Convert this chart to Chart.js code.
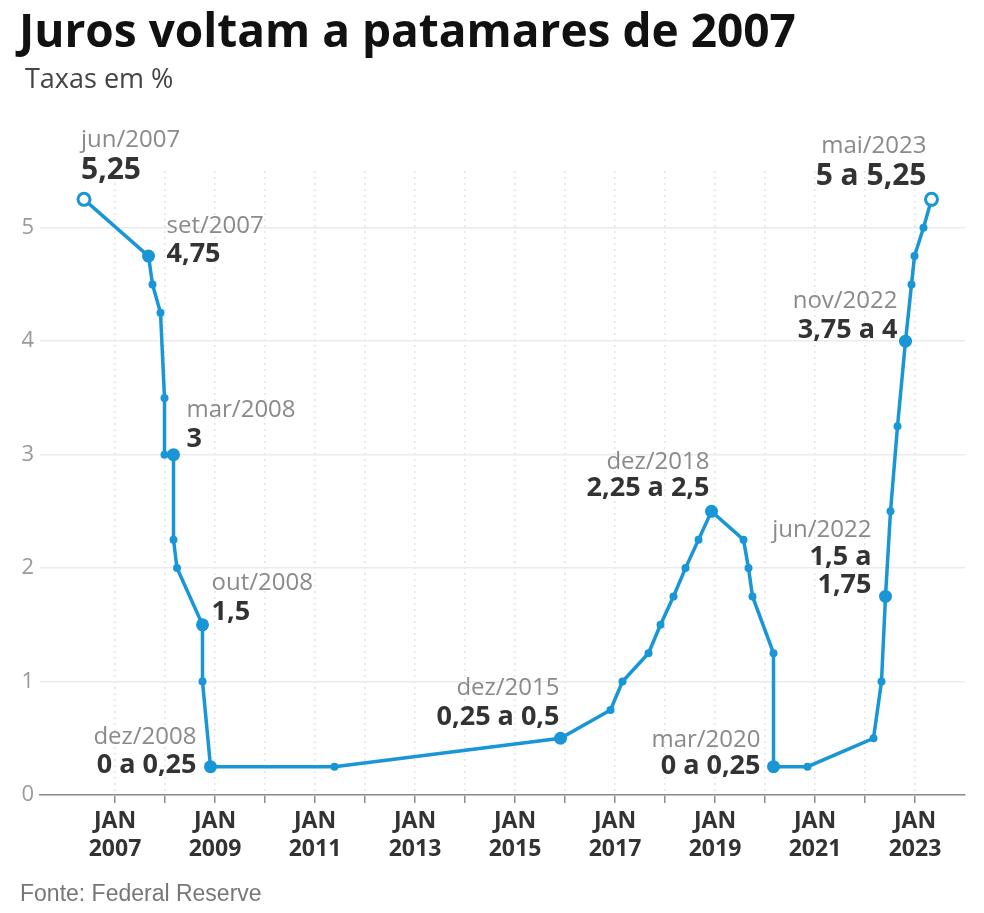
<!DOCTYPE html>
<html lang="pt-BR">
<head>
<meta charset="utf-8">
<script src="https://cdn.jsdelivr.net/npm/chart.js@4.4.0/dist/chart.umd.min.js"></script>
<style>
  html, body { margin: 0; padding: 0; background: #fff; }
  #wrap { position: relative; width: 984px; height: 913px; font-family: 'Open Sans', sans-serif; }
  #chartBox { position: absolute; left: 0; top: 0; }
  h1 { position: absolute; left: 19px; top: -1px; margin: 0; font-size: 46px; font-weight: 700; color: #111; line-height: 61px; white-space: nowrap; }
  .sub { position: absolute; left: 25px; top: 60px; font-size: 27px; color: #444; line-height: 35px; }
  .src { position: absolute; left: 20px; top: 880px; font-family: 'Liberation Sans', Arial, sans-serif; font-size: 23px; color: #777; line-height: 26px; }
</style>
</head>
<body>
<div id="wrap">
  <canvas id="chartBox" width="984" height="913"></canvas>
  <h1>Juros voltam a patamares de 2007</h1>
  <div class="sub">Taxas em %</div>
  <div class="src">Fonte: Federal Reserve</div>
</div>
<script>
// --- DATA ---
// fed funds target (upper bound), x = fractional year
const rateDates = [2006.38, 2007.67, 2007.75, 2007.91, 2007.99, 2007.99, 2008.17, 2008.17, 2008.24, 2008.75,
                   2008.75, 2008.91, 2011.39, 2015.91, 2016.91, 2017.15, 2017.67, 2017.91, 2018.17, 2018.41,
                   2018.67, 2018.93, 2019.57, 2019.67, 2019.75, 2020.17, 2020.17, 2020.85, 2022.17, 2022.33,
                   2022.41, 2022.51, 2022.65, 2022.81, 2022.93, 2022.99, 2023.17, 2023.33];
const rateValues = [5.25, 4.75, 4.5, 4.25, 3.5, 3.0, 3.0, 2.25, 2.0, 1.5,
                    1.0, 0.25, 0.25, 0.5, 0.75, 1.0, 1.25, 1.5, 1.75, 2.0,
                    2.25, 2.5, 2.25, 2.0, 1.75, 1.25, 0.25, 0.25, 0.5, 1.0,
                    1.75, 2.5, 3.25, 4.0, 4.5, 4.75, 5.0, 5.25];
const xLabelYears = [2007, 2009, 2011, 2013, 2015, 2017, 2019, 2021, 2023];
const yTickValues = [0, 1, 2, 3, 4, 5];

const calloutIdx = [0, 1, 6, 9, 11, 13, 21, 26, 30, 33, 37];
const calloutMonth = ['jun/2007', 'set/2007', 'mar/2008', 'out/2008', 'dez/2008', 'dez/2015', 'dez/2018', 'mar/2020', 'jun/2022', 'nov/2022', 'mai/2023'];
const calloutValue = [['5,25'], ['4,75'], ['3'], ['1,5'], ['0 a 0,25'], ['0,25 a 0,5'], ['2,25 a 2,5'], ['0 a 0,25'], ['1,5 a', '1,75'], ['3,75 a 4'], ['5 a 5,25']];

// label placement relative to the point (px)
const calloutPos = [
  { align: 'left',  dx: -3,  dy: [-59, -29], big: true },
  { align: 'left',  dx: 18,  dy: [-30, -2] },
  { align: 'left',  dx: 13,  dy: [-44, -15] },
  { align: 'left',  dx: 9,   dy: [-42, -13] },
  { align: 'right', dx: -14, dy: [-29, -1] },
  { align: 'right', dx: -1,  dy: [-50, -21] },
  { align: 'right', dx: -2,  dy: [-49, -23] },
  { align: 'right', dx: -13, dy: [-26, 0] },
  { align: 'right', dx: -14, dy: [-66, -39, -11] },
  { align: 'right', dx: -8,  dy: [-40, -11] },
  { align: 'right', dx: -5,  dy: [-53, -23], big: true }
];

const BLUE = '#1896d6';
const lastIdx = rateValues.length - 1;
const isHollow = i => i === 0 || i === lastIdx;
const isBig = i => calloutIdx.includes(i);

const calloutPlugin = {
  id: 'callouts',
  afterDatasetsDraw(chart) {
    const { ctx, scales: { x, y } } = chart;
    ctx.save();
    ctx.textBaseline = 'middle';
    calloutIdx.forEach((idx, i) => {
      const pos = calloutPos[i];
      const px = x.getPixelForValue(rateDates[idx]) + pos.dx;
      const py = y.getPixelForValue(rateValues[idx]);
      ctx.textAlign = pos.align;
      ctx.fillStyle = '#8a8a8a';
      ctx.font = '24px "Open Sans"';
      ctx.fillText(calloutMonth[i], px, py + pos.dy[0]);
      ctx.fillStyle = '#333';
      ctx.font = 'bold ' + (pos.big ? 30 : 27) + 'px "Open Sans"';
      calloutValue[i].forEach((line, j) => ctx.fillText(line, px, py + pos.dy[j + 1]));
    });
    ctx.restore();
  }
};

new Chart(document.getElementById('chartBox'), {
  type: 'line',
  data: {
    datasets: [{
      data: rateDates.map((d, i) => ({ x: d, y: rateValues[i] })),
      borderColor: BLUE,
      borderWidth: 3.5,
      tension: 0,
      fill: false,
      clip: false,
      pointRadius: c => isHollow(c.dataIndex) ? 6 : (isBig(c.dataIndex) ? 6.5 : 4),
      pointBackgroundColor: c => isHollow(c.dataIndex) ? '#fff' : BLUE,
      pointBorderColor: BLUE,
      pointBorderWidth: c => isHollow(c.dataIndex) ? 3 : 0
    }]
  },
  options: {
    responsive: false,
    animation: false,
    devicePixelRatio: 1,
    layout: { padding: { top: 171, right: 19, bottom: 48, left: 0 } },
    plugins: { legend: { display: false }, tooltip: { enabled: false } },
    scales: {
      x: {
        type: 'linear', min: 2005.5, max: 2024,
        afterBuildTicks: s => { s.ticks = s.ticks.filter(t => Number.isInteger(t.value) && t.value < 2024); },
        afterFit: s => { s.height = 70; },
        ticks: {
          stepSize: 1, autoSkip: false, maxRotation: 0, padding: 4,
          color: '#333', font: { family: 'Open Sans', size: 23, weight: 'bold', lineHeight: 1.22 },
          callback: v => xLabelYears.includes(v) ? ['JAN', String(v)] : ''
        },
        grid: { color: '#e3e3e3', lineWidth: 1.5, tickColor: '#8c8c8c', tickLength: 8, tickWidth: 1.5, tickBorderDash: [] },
        border: { display: true, color: '#8c8c8c', width: 1.5, dash: [2, 4] }
      },
      y: {
        min: 0, max: 5.5,
        afterBuildTicks: s => { s.ticks = yTickValues.map(v => ({ value: v })); },
        afterFit: s => { s.width = 40; },
        ticks: { padding: 6, color: '#9a9a9a', font: { family: 'Open Sans', size: 22 } },
        grid: { color: '#ebebeb', lineWidth: 1.5, drawTicks: false },
        border: { display: false }
      }
    }
  },
  plugins: [calloutPlugin]
});
</script>
</body>
</html>
